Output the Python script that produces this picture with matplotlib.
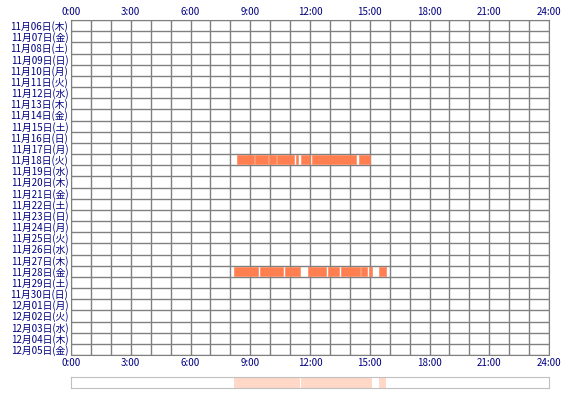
import matplotlib
matplotlib.use("Agg")
import matplotlib.pyplot as plt

plt.rcParams['font.family'] = ['Noto Sans CJK JP', 'DejaVu Sans']

days = ["11月06日(木)", "11月07日(金)", "11月08日(土)", "11月09日(日)", "11月10日(月)",
        "11月11日(火)", "11月12日(水)", "11月13日(木)", "11月14日(金)", "11月15日(土)",
        "11月16日(日)", "11月17日(月)", "11月18日(火)", "11月19日(水)", "11月20日(木)",
        "11月21日(金)", "11月22日(土)", "11月23日(日)", "11月24日(月)", "11月25日(火)",
        "11月26日(水)", "11月27日(木)", "11月28日(金)", "11月29日(土)", "11月30日(日)",
        "12月01日(月)", "12月02日(火)", "12月03日(水)", "12月04日(木)", "12月05日(金)"]

# active intervals (start hour, end hour) per day index
sessions = {
    12: [(8.35, 9.19), (9.25, 9.87), (9.96, 10.29), (10.36, 11.19), (11.28, 11.41),
         (11.55, 12.0), (12.10, 14.29), (14.46, 15.01)],
    22: [(8.18, 9.37), (9.49, 10.63), (10.74, 11.50), (11.91, 12.80), (12.92, 13.44),
         (13.54, 14.51), (14.58, 14.88), (14.96, 15.09), (15.48, 15.80)],
}
ticks = [0, 3, 6, 9, 12, 15, 18, 21, 24]
tick_labels = ["0:00", "3:00", "6:00", "9:00", "12:00", "15:00", "18:00", "21:00", "24:00"]

bar_color = "#FF7F50"
txt = "#000080"

fig = plt.figure(figsize=(5.7, 4.0), dpi=100)
ax = fig.add_axes([71/570, 45/400, 478/570, 335/400])
n = len(days)
for i, segs in sessions.items():
    for s, e in segs:
        ax.barh(i, e - s, left=s, height=0.8, color=bar_color,
                edgecolor=bar_color, linewidth=0.4, zorder=2)
ax.set_xlim(0, 24)
ax.set_ylim(n - 0.5, -0.5)
for h in range(25):
    ax.axvline(h, color="#808080", lw=1, zorder=0)
for k in range(n + 1):
    ax.axhline(k - 0.5, color="#808080", lw=1, zorder=0)
ax.set_yticks(range(n))
ax.set_yticklabels(days, fontsize=7, color=txt)
ax.set_xticks(ticks)
ax.set_xticklabels(tick_labels, fontsize=7, color=txt)
ax.tick_params(length=0, pad=2, labeltop=True, top=False)
for sp in ax.spines.values():
    sp.set_color("#808080")

# summary strip
ax2 = fig.add_axes([71/570, 12/400, 478/570, 11/400])
for i, segs in sessions.items():
    for s, e in segs:
        ax2.axvspan(s, e, color="#FFD8C8", lw=0)
ax2.set_xlim(0, 24)
ax2.set_xticks([])
ax2.set_yticks([])
for sp in ax2.spines.values():
    sp.set_color("#C0C0C0")

fig.savefig("out.png")
